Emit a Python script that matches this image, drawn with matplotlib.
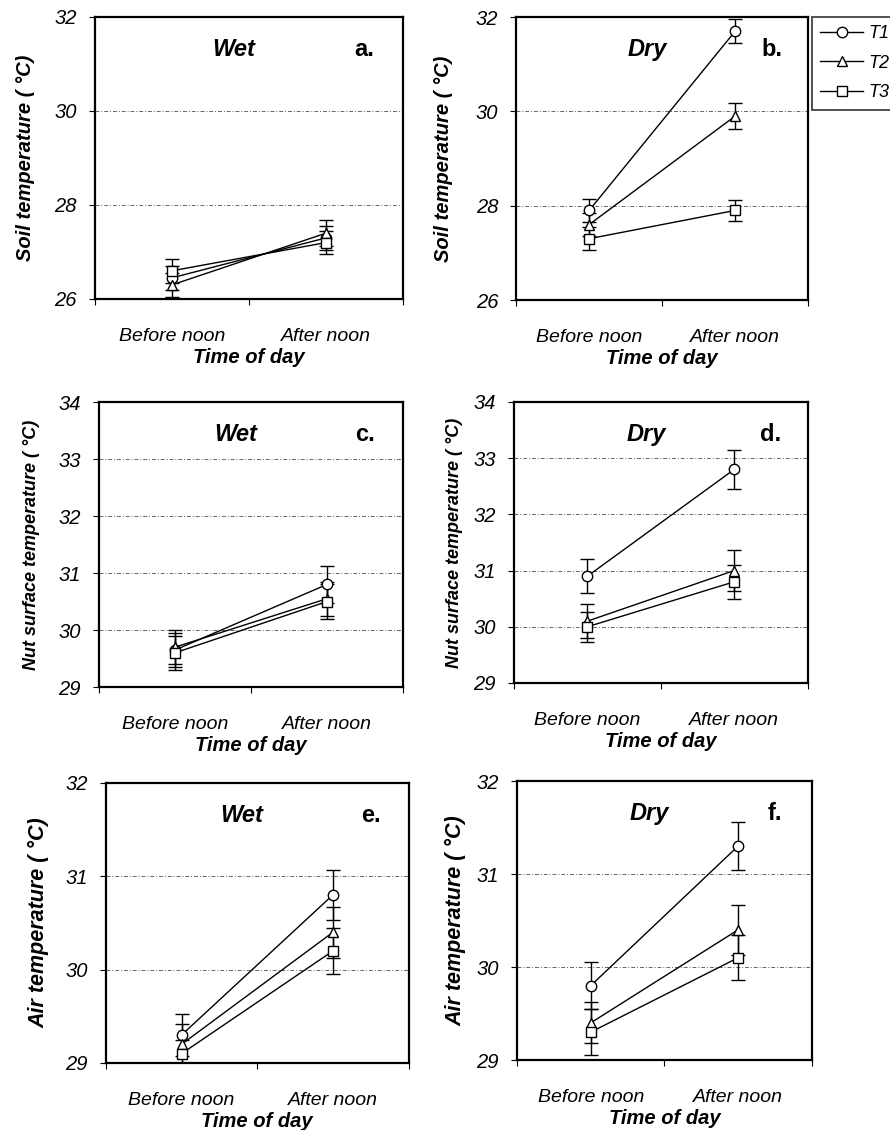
import matplotlib.pyplot as plt
from matplotlib.lines import Line2D

plt.rcParams['font.family'] = ['Liberation Sans', 'DejaVu Sans']

times = ['Before noon', 'After noon']
treatments = ['T1', 'T2', 'T3']
markers = ['o', '^', 's']
msizes = [7.5, 7, 6.5]

# panel a: soil, wet
soil_wet = [[26.45, 27.3], [26.3, 27.4], [26.6, 27.2]]
soil_wet_err = [[0.25, 0.25], [0.25, 0.28], [0.25, 0.25]]
# panel b: soil, dry
soil_dry = [[27.9, 31.7], [27.6, 29.9], [27.3, 27.9]]
soil_dry_err = [[0.25, 0.25], [0.25, 0.27], [0.25, 0.23]]
# panel c: nut surface, wet
nut_wet = [[29.65, 30.8], [29.7, 30.55], [29.6, 30.5]]
nut_wet_err = [[0.3, 0.32], [0.3, 0.3], [0.3, 0.3]]
# panel d: nut surface, dry
nut_dry = [[30.9, 32.8], [30.1, 31.0], [30.0, 30.8]]
nut_dry_err = [[0.3, 0.35], [0.3, 0.37], [0.27, 0.3]]
# panel e: air, wet
air_wet = [[29.3, 30.8], [29.2, 30.4], [29.1, 30.2]]
air_wet_err = [[0.22, 0.27], [0.22, 0.27], [0.15, 0.25]]
# panel f: air, dry
air_dry = [[29.8, 31.3], [29.4, 30.4], [29.3, 30.1]]
air_dry_err = [[0.25, 0.26], [0.22, 0.27], [0.25, 0.24]]

panels = [
    ([0.1067, 0.7354, 0.346, 0.2496], soil_wet, soil_wet_err, 'Wet', 'a.', 'Soil temperature ( °C)', (26, 32), [26, 28, 30, 32]),
    ([0.580, 0.7345, 0.328, 0.2504], soil_dry, soil_dry_err, 'Dry', 'b.', 'Soil temperature ( °C)', (26, 32), [26, 28, 30, 32]),
    ([0.1112, 0.392, 0.3416, 0.2522], nut_wet, nut_wet_err, 'Wet', 'c.', 'Nut surface temperature ( °C)', (29, 34), [29, 30, 31, 32, 33, 34]),
    ([0.5775, 0.3956, 0.330, 0.2487], nut_dry, nut_dry_err, 'Dry', 'd.', 'Nut surface temperature ( °C)', (29, 34), [29, 30, 31, 32, 33, 34]),
    ([0.119, 0.0593, 0.340, 0.2478], air_wet, air_wet_err, 'Wet', 'e.', 'Air temperature ( °C)', (29, 32), [29, 30, 31, 32]),
    ([0.581, 0.0619, 0.331, 0.2469], air_dry, air_dry_err, 'Dry', 'f.', 'Air temperature ( °C)', (29, 32), [29, 30, 31, 32]),
]
label_x = [-0.196, -0.216, -0.194, -0.172, -0.185, -0.172]

fig = plt.figure(figsize=(8.9, 11.3), dpi=100)
xpos = [0.5, 1.5]

for k, (rect, vals, errs, cond, letter, ylab, ylim, yticks) in enumerate(panels):
    ax = fig.add_axes(rect)
    for i in range(3):
        ax.errorbar(xpos, vals[i], yerr=errs[i], color='black', linewidth=1,
                    elinewidth=1, capsize=4.7, capthick=1, marker=markers[i],
                    markersize=msizes[i], markeredgewidth=1,
                    markerfacecolor='white', markeredgecolor='black', zorder=3)
    ax.set_xlim(0, 2)
    ax.set_ylim(*ylim)
    ax.set_yticks(yticks)
    ax.set_yticklabels([str(t) for t in yticks], fontsize=14.5, fontstyle='italic')
    ax.set_xticks([0, 1, 2])
    ax.set_xticklabels([])
    ax.set_xticks(xpos, minor=True)
    ax.set_xticklabels(times, minor=True, fontsize=14, fontstyle='italic')
    ax.tick_params(axis='x', which='minor', length=0, pad=21)
    ax.tick_params(axis='x', which='major', length=4, direction='out')
    ax.tick_params(axis='y', length=4, direction='out', pad=9)
    for t in yticks[1:-1]:
        ax.axhline(t, color='#666666', linestyle=(0, (4, 2, 1, 2)), linewidth=0.7, zorder=1)
    for s in ax.spines.values():
        s.set_linewidth(1.6)
    ax.set_xlabel('Time of day', fontsize=14.5, fontweight='bold', fontstyle='italic', labelpad=2)
    ysize = 13 if 'Nut' in ylab else (15.5 if 'Air' in ylab else 14.5)
    ax.set_ylabel(ylab, fontsize=ysize, fontweight='bold', fontstyle='italic')
    ax.yaxis.set_label_coords(label_x[k], 0.5)
    ax.text(0.45, 0.885, cond, transform=ax.transAxes, fontsize=17, fontweight='bold',
            fontstyle='italic', ha='center', va='center')
    ax.text(0.875, 0.885, letter, transform=ax.transAxes, fontsize=17, fontweight='bold',
            ha='center', va='center')

handles = [Line2D([0], [0], color='black', linewidth=1, marker=m, markersize=s,
                  markerfacecolor='white', markeredgecolor='black') for m, s in zip(markers, msizes)]
leg = fig.legend(handles, treatments, loc='upper left', bbox_to_anchor=(812 / 890, 1 - 17 / 1130),
                 borderaxespad=0, frameon=True, fancybox=False, edgecolor='black',
                 prop={'style': 'italic', 'size': 13}, handlelength=2.4, borderpad=0.45,
                 labelspacing=0.7, handletextpad=0.3)
leg.get_frame().set_linewidth(1.2)

plt.savefig('out.png', dpi=100)
